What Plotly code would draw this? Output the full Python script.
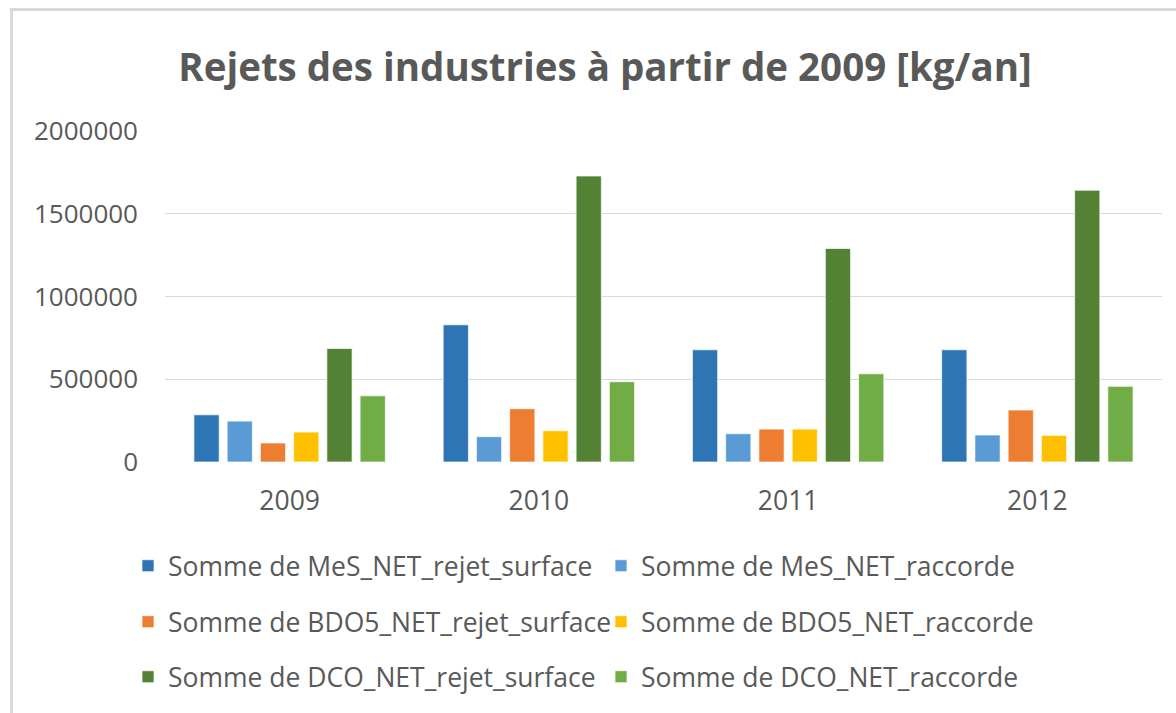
import plotly.graph_objects as go

years = ["2009", "2010", "2011", "2012"]
series_names = [
    "Somme de MeS_NET_rejet_surface",
    "Somme de MeS_NET_raccorde",
    "Somme de BDO5_NET_rejet_surface",
    "Somme de BDO5_NET_raccorde",
    "Somme de DCO_NET_rejet_surface",
    "Somme de DCO_NET_raccorde",
]
mes_surface = [285000, 829000, 678000, 678000]
mes_raccorde = [247000, 153000, 171000, 163000]
bdo5_surface = [115000, 322000, 199000, 314000]
bdo5_raccorde = [181000, 189000, 199000, 161000]
dco_surface = [686000, 1728000, 1290000, 1642000]
dco_raccorde = [400000, 485000, 533000, 457000]
series_values = [mes_surface, mes_raccorde, bdo5_surface, bdo5_raccorde, dco_surface, dco_raccorde]
colors = ["#2E75B6", "#5B9BD5", "#ED7D31", "#FFC000", "#548235", "#70AD47"]
legend_ids = ["legend", "legend", "legend2", "legend2", "legend3", "legend3"]

W, H = 1176, 713
FONT = "Open Sans"
GREY = "#595959"

fig = go.Figure()
for name, vals, col, lg in zip(series_names, series_values, colors, legend_ids):
    fig.add_trace(go.Bar(
        x=years, y=vals, name=name, legend=lg,
        marker=dict(color=col, line=dict(color="rgba(255,255,255,0.7)", width=1)),
    ))

leg_common = dict(orientation="h", xref="container", yref="container",
                  xanchor="left", yanchor="middle", entrywidth=428, entrywidthmode="pixels",
                  font=dict(family=FONT, size=26.5, color=GREY), bgcolor="rgba(0,0,0,0)",
                  itemclick=False, itemdoubleclick=False)
rows_y = [566, 622, 677]
fig.update_layout(
    width=W, height=H,
    paper_bgcolor="white", plot_bgcolor="white",
    margin=dict(l=165, r=14, t=131, b=251),
    barmode="group", bargap=0.2, bargroupgap=0.24,
    title=dict(text="<b>Rejets des industries à partir de 2009 [kg/an]</b>",
               x=605 / W, xref="container", xanchor="center",
               y=1 - 68 / H, yref="container", yanchor="middle",
               font=dict(family=FONT, size=38.5, color=GREY)),
    font=dict(family=FONT, color=GREY),
    legend=dict(**leg_common, x=128 / W, y=1 - rows_y[0] / H),
    legend2=dict(**leg_common, x=128 / W, y=1 - rows_y[1] / H),
    legend3=dict(**leg_common, x=128 / W, y=1 - rows_y[2] / H),
    xaxis=dict(type="category", tickfont=dict(family=FONT, size=26.5, color=GREY),
               showgrid=False, showline=False, ticks="", ticklabelstandoff=20),
    yaxis=dict(range=[0, 2000000], dtick=500000, tickformat="d",
               tickfont=dict(family=FONT, size=26, color=GREY),
               gridcolor="#D9D9D9", gridwidth=1.3, zeroline=False, showline=False,
               ticks="", ticklabelstandoff=26),
    shapes=[dict(type="rect", xref="paper", yref="paper",
                 x0=(11.5 - 165) / 997, x1=(1200 - 165) / 997,
                 y0=(462 - 740) / 331, y1=(462 - 9.5) / 331,
                 line=dict(color="#D9D9D9", width=3), fillcolor="rgba(0,0,0,0)", layer="below")],
)

fig.write_html("out.html", config={"displayModeBar": False},
               post_script="document.body.style.margin='0';document.body.style.padding='0';")
